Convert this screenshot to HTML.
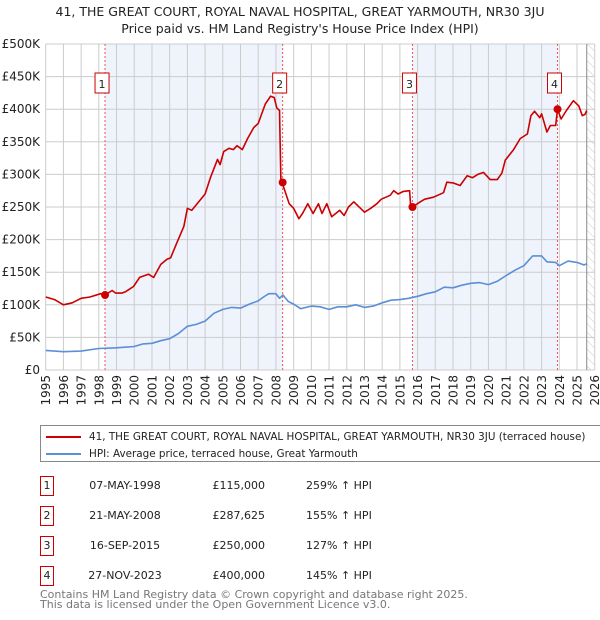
<!DOCTYPE html>
<html><head><meta charset="utf-8"><style>
body{margin:0;background:#fff;font-family:"DejaVu Sans","Liberation Sans",sans-serif;}
#wrap{position:relative;width:600px;height:620px;overflow:hidden}
</style></head><body>
<div id="wrap">
<svg id="chart" width="600" height="620" xmlns="http://www.w3.org/2000/svg" style="font-family:'DejaVu Sans','Liberation Sans',sans-serif">
<defs><pattern id="hatch" width="6" height="6" patternUnits="userSpaceOnUse" patternTransform="rotate(-45)"><line x1="0" y1="0" x2="0" y2="6" stroke="#ccc" stroke-width="1"/></pattern></defs>
<text x="300" y="16" text-anchor="middle" font-size="12.5" fill="#222">41, THE GREAT COURT, ROYAL NAVAL HOSPITAL, GREAT YARMOUTH, NR30 3JU</text>
<text x="300" y="33" text-anchor="middle" font-size="12.5" fill="#222">Price paid vs. HM Land Registry's House Price Index (HPI)</text>
<g id="plot"></g>
</svg>
<div style="position:absolute;left:40px;top:425px;width:580px;height:37px;border:1px solid #888;box-sizing:border-box;font-size:10.4px;color:#222">
 <div style="position:absolute;left:5px;top:5px;white-space:nowrap"><span style="display:inline-block;width:35px;height:2px;background:#cc0000;vertical-align:middle;margin-right:8px"></span>41, THE GREAT COURT, ROYAL NAVAL HOSPITAL, GREAT YARMOUTH, NR30 3JU (terraced house)</div>
 <div style="position:absolute;left:5px;top:22px;white-space:nowrap"><span style="display:inline-block;width:35px;height:2px;background:#5b8fd6;vertical-align:middle;margin-right:8px"></span>HPI: Average price, terraced house, Great Yarmouth</div>
</div>
<div id="table" style="font-size:11px;color:#222"></div>
<div style="position:absolute;left:40px;top:590px;font-size:11px;color:#777;line-height:10px">Contains HM Land Registry data © Crown copyright and database right 2025.<br>This data is licensed under the Open Government Licence v3.0.</div>
</div>
<script>
const yTicks=[0,50,100,150,200,250,300,350,400,450,500];
const yTickLabels=["£0","£50K","£100K","£150K","£200K","£250K","£300K","£350K","£400K","£450K","£500K"];
const xYears=[1995,1996,1997,1998,1999,2000,2001,2002,2003,2004,2005,2006,2007,2008,2009,2010,2011,2012,2013,2014,2015,2016,2017,2018,2019,2020,2021,2022,2023,2024,2025,2026];
const redT=[1995.0,1995.5,1996.0,1996.5,1997.0,1997.5,1998.1,1998.35,1998.75,1998.95,1999.3,1999.5,1999.96,2000.3,2000.8,2001.1,2001.5,2001.85,2002.05,2002.4,2002.8,2003.0,2003.25,2003.7,2004.0,2004.3,2004.7,2004.85,2005.05,2005.35,2005.6,2005.8,2006.1,2006.4,2006.75,2007.0,2007.4,2007.7,2007.9,2008.05,2008.2,2008.28,2008.35,2008.75,2009.0,2009.3,2009.5,2009.8,2010.1,2010.4,2010.6,2010.87,2011.15,2011.6,2011.85,2012.1,2012.4,2013.0,2013.35,2013.7,2013.95,2014.45,2014.65,2014.9,2015.2,2015.55,2015.6,2015.71,2016.15,2016.4,2016.9,2017.46,2017.65,2018.0,2018.4,2018.8,2019.1,2019.4,2019.72,2020.1,2020.5,2020.76,2020.95,2021.42,2021.8,2022.2,2022.4,2022.6,2022.9,2023.0,2023.3,2023.5,2023.8,2023.9,2024.1,2024.4,2024.8,2025.1,2025.3,2025.45,2025.55];
const redV=[112,108,100,103,110,112,117,115,122,118,118,120,128,142,147,142,162,170,172,195,220,248,245,260,270,295,323,315,335,340,338,344,338,355,372,378,408,420,418,402,398,290,287.6,255,248,232,240,255,240,255,240,255,235,245,237,250,258,242,248,255,262,268,275,270,274,275,255,250,258,262,265,272,288,287,283,298,295,300,303,292,292,302,322,338,355,362,390,397,387,393,365,375,375,400,385,398,413,405,390,392,398];
const blueT=[1995,1996,1997,1998,1999,2000,2000.5,2001,2001.5,2002,2002.5,2003,2003.5,2004,2004.5,2005,2005.5,2006,2006.5,2007,2007.3,2007.6,2008.0,2008.2,2008.4,2008.7,2009.0,2009.4,2010,2010.5,2011,2011.5,2012,2012.5,2013,2013.5,2014,2014.5,2015,2015.5,2016,2016.5,2017,2017.5,2018,2018.5,2019,2019.5,2020,2020.5,2021,2021.5,2022,2022.5,2023,2023.3,2023.8,2024,2024.5,2025,2025.4,2025.55];
const blueV=[30,28,29,33,34,36,40,41,45,48,56,67,70,75,87,93,96,95,101,106,112,117,117,110,115,105,101,94,98,97,93,97,97,100,96,98,103,107,108,110,113,117,120,127,126,130,133,134,131,136,145,153,160,175,175,166,165,160,167,165,161,163];
const saleT=[1998.35,2008.38,2015.71,2023.9];
const saleV=[115,287.625,250,400];
const saleLabels=["1","2","3","4"];
const saleDates=["07-MAY-1998","21-MAY-2008","16-SEP-2015","27-NOV-2023"];
const salePrices=["£115,000","£287,625","£250,000","£400,000"];
const saleHpi=["259% ↑ HPI","155% ↑ HPI","127% ↑ HPI","145% ↑ HPI"];
const dataEnd=2025.55;

const NS="http://www.w3.org/2000/svg";
const L=45.7,R=594.7,T=44,B=370;
const X=t=>L+(t-1995)*(R-L)/31;
const Y=v=>B-v*(B-T)/500;
const g=document.getElementById('plot');
function mk(tag,attrs,parent){const e=document.createElementNS(NS,tag);for(const k in attrs)e.setAttribute(k,attrs[k]);(parent||g).appendChild(e);return e;}
for(let i=0;i<4;i+=2){
 const r=mk('rect',{x:X(saleT[i]),y:T,width:X(saleT[i+1])-X(saleT[i]),height:B-T,fill:'#eef3fc'});
 
 
}
const h=mk('rect',{x:X(dataEnd),y:T,width:R-X(dataEnd),height:B-T,fill:'url(#hatch)'});


yTicks.forEach((v,i)=>{
 const ln=mk('line',{x1:L,x2:R,y1:Y(v),y2:Y(v),stroke:'#ccc','stroke-width':1});
 
 
 const t=mk('text',{x:40,y:Y(v)+4,'text-anchor':'end','font-size':12,fill:'#222'});
 t.textContent=yTickLabels[i];
 
 
});
xYears.forEach(yr=>{
 const ln=mk('line',{x1:X(yr),x2:X(yr),y1:T,y2:B,stroke:'#ccc','stroke-width':1});
 
 
 const t=mk('text',{x:0,y:0,'text-anchor':'end','font-size':12,fill:'#222',transform:`translate(${X(yr)+4.5},375) rotate(-90)`});
 t.textContent=yr;
 
 
});
const el=mk('line',{x1:X(dataEnd),x2:X(dataEnd),y1:T,y2:B,stroke:'#888','stroke-width':1});


saleT.forEach((t,i)=>{
 const ln=mk('line',{x1:X(t),x2:X(t),y1:T,y2:B,stroke:'#e55','stroke-width':1,'stroke-dasharray':'2,2'});
 
 
});
function path(ts,vs,color,name){
 const d=ts.map((t,i)=>(i?'L':'M')+X(t).toFixed(1)+','+Y(vs[i]).toFixed(1)).join('');
 const p=mk('path',{d:d,fill:'none',stroke:color,'stroke-width':1.6,'stroke-linejoin':'round'});
 
 
}
path(blueT,blueV,'#5b8fd6','hpi-line');
path(redT,redV,'#cc0000','property-line');
saleT.forEach((t,i)=>{
 const c=mk('circle',{cx:X(t),cy:Y(saleV[i]),r:4,fill:'#cc0000'});
 
 
 const gg=mk('g',{});
 
 
 mk('rect',{x:X(t)-10,y:73,width:14,height:20,fill:'#fff',stroke:'#cc0000','stroke-width':1},gg);
 const tx=mk('text',{x:X(t)-3,y:88,'text-anchor':'middle','font-size':11,fill:'#222'},gg);
 tx.textContent=saleLabels[i];
});
const tb=document.getElementById('table');
saleLabels.forEach((s,i)=>{
 const top=476+i*30;
 const row=document.createElement('div');
 
 
 row.style.cssText=`position:absolute;left:0;top:${top}px;width:600px;height:20px`;
 row.innerHTML=`<div style="position:absolute;left:40px;top:0;width:12px;height:18px;border:1px solid #cc0000;text-align:center;line-height:18px">${s}</div>
 <div style="position:absolute;left:75px;width:100px;top:3px;text-align:center">${saleDates[i]}</div>
 <div style="position:absolute;left:205px;width:60px;top:3px;text-align:right">${salePrices[i]}</div>
 <div style="position:absolute;left:306px;top:3px">${saleHpi[i]}</div>`;
 tb.appendChild(row);
});
</script>
</body></html>
